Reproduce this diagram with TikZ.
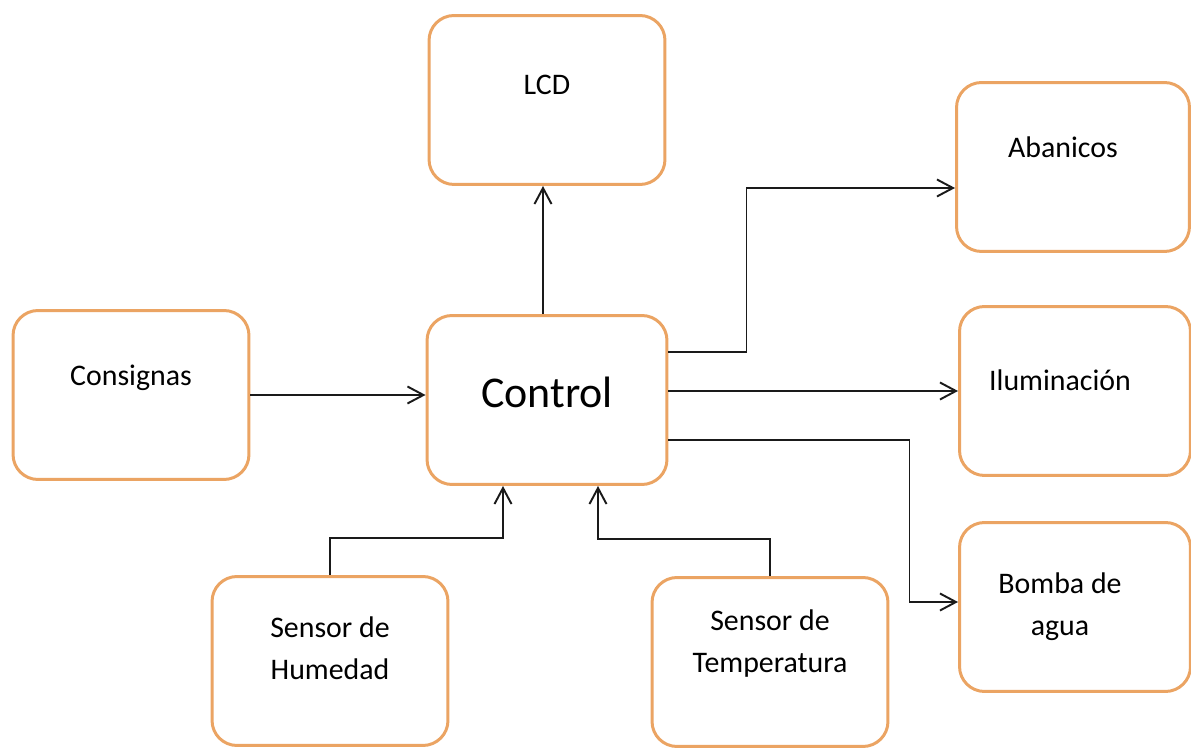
\documentclass[tikz,border=0pt]{standalone}
\usepackage{fontspec}
\setmainfont{Carlito}
\usepackage{xcolor}
\usepackage{tikz}
\usetikzlibrary{positioning,arrows.meta,calc}
\definecolor{boxDraw}{HTML}{EBA463}
\definecolor{arrowCol}{HTML}{1A1A1A}

\begin{document}
\begin{tikzpicture}[
  x=0.02cm, y=-0.02cm,
  font=\fontsize{17}{24}\selectfont,
  bloque/.style={draw=boxDraw, fill=white, line width=1.7pt, rounded corners=0.5cm,
                 align=center, minimum width=4.72cm, minimum height=3.38cm, inner sep=3pt},
  subir/.style={text depth=#1},
  flow/.style={-{Straight Barb[length=3.2mm,width=3.4mm]}, line width=1.1pt, draw=arrowCol},
]
\useasboundingbox (0,0) rectangle (1191,749);

% ---- Bloque central ----
\node[bloque, minimum width=4.8cm, subir=0.32cm, font=\fontsize{25}{30}\selectfont] (ctrl) at (547,400) {Control};

% ---- Entradas ----
\node[bloque, subir=0.8cm]  (cons) at (131,395) {Consignas};
\node[bloque, subir=0.52cm] (hum)  at (330,661) {Sensor de\\Humedad};
\node[bloque, subir=0.84cm] (temp) at (770,662) {Sensor de\\Temperatura};

% ---- Salidas ----
\node[bloque, subir=0.6cm]  (lcd)   at (547,100)  {LCD};
\node[bloque, minimum width=4.66cm, subir=0.78cm] (aban)  at (1073,167) {Abanicos\hspace*{0.4cm}};
\node[bloque, minimum width=4.62cm, subir=0.45cm] (ilum)  at (1075,391) {Iluminación\hspace*{0.6cm}};
\node[bloque, minimum width=4.62cm] (bomba) at (1075,607) {Bomba de\hspace*{0.6cm}\\agua\hspace*{0.6cm}};

% ---- Flechas de entrada ----
\draw[flow] (cons.east) -- (ctrl.west |- cons.east);
\draw[flow] (hum.north)  -- ++(0,-37) -| ([xshift=-0.88cm]ctrl.south);
\draw[flow] (temp.north) -- ++(0,-37) -| ([xshift=1.02cm]ctrl.south);

% ---- Flechas de salida ----
\draw[flow] ([xshift=-0.08cm]ctrl.north) -- ([xshift=-0.08cm]lcd.south);
\draw[flow] ([yshift=0.96cm]ctrl.east) -- ++(78,0) |- ([yshift=-0.42cm]aban.west);
\draw[flow] (ctrl.east |- ilum.west) -- (ilum.west);
\draw[flow] ([yshift=-0.8cm]ctrl.east) -- ++(241,0) |- ([yshift=0.1cm]bomba.west);

\end{tikzpicture}
\end{document}
